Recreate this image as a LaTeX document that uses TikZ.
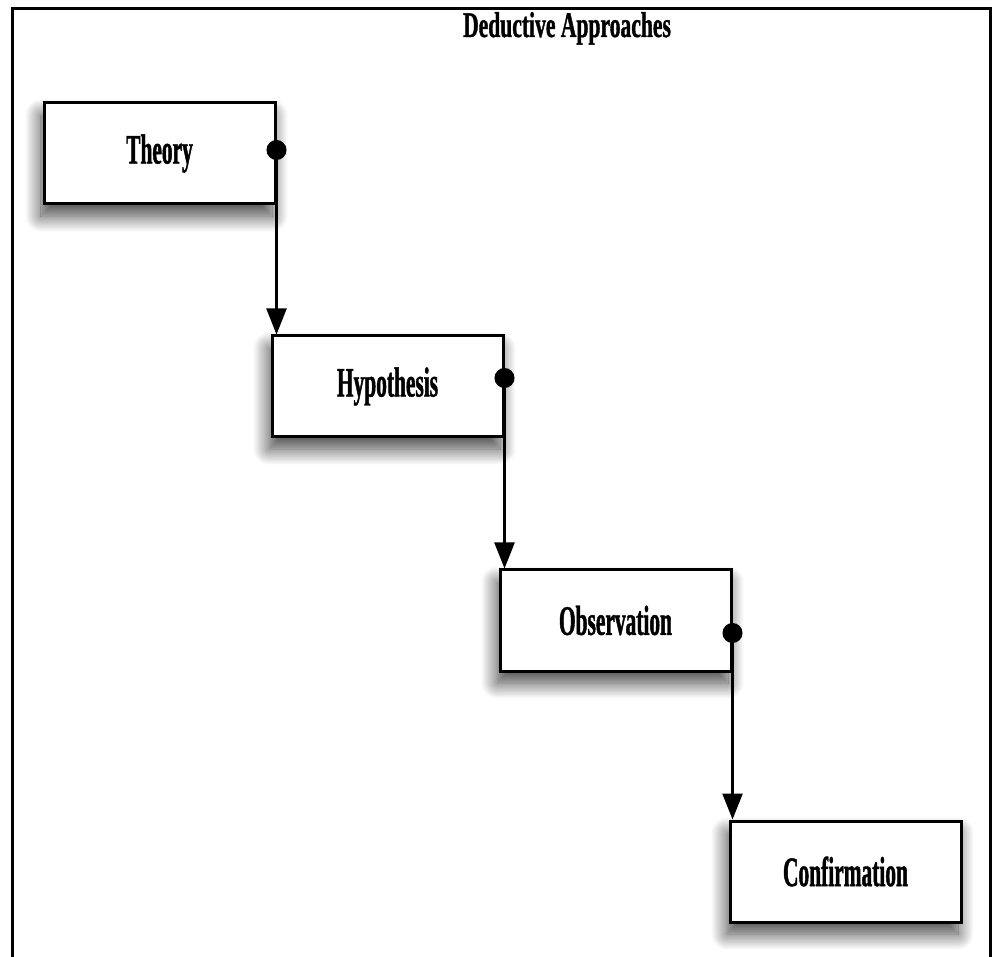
\documentclass[tikz,border=0pt]{standalone}
\usepackage{fontspec}
\newfontfamily\stagefont{Liberation Serif}[FakeStretch=0.51, FakeBold=1]
\newfontfamily\headfont{Liberation Serif}[FakeStretch=0.6, FakeBold=1]
\usetikzlibrary{arrows.meta, positioning, shadows.blur}

\begin{document}
\begin{tikzpicture}[
    x=0.5pt, y=-0.5pt,
    stage/.style={rectangle, draw, line width=1.5pt, fill=white, minimum width=115.5pt, minimum height=50.5pt, align=center, font=\stagefont\bfseries\fontsize{21}{24}\selectfont,
        blur shadow={shadow xshift=-1.5pt, shadow yshift=-6pt, shadow blur radius=8pt, shadow blur steps=25, shadow opacity=75}},
    flow/.style={{Circle[length=10pt]}-{Triangle[length=13pt, width=10pt]}, line width=1.25pt, shorten <=-5pt},
    frame/.style={line width=1.5pt},
    heading/.style={font=\headfont\bfseries\fontsize{18}{21}\selectfont, anchor=base}
]
    \useasboundingbox (0,0) rectangle (992,957);

    % Rahmen (unten offen)
    \draw[frame] (12,957) -- (12,9) -- (990,9) -- (990,957);
    \node[heading] (title) at (567,37) {Deductive Approaches};

    % Stufen, treppenartig
    \node[stage] (theory) at (159.5,153.5) {Theory};
    \node[stage, below right=64.5pt and -3pt of theory, anchor=north west] (hypothesis) {Hypothesis};
    \node[stage, below right=65pt and -3pt of hypothesis, anchor=north west] (observation) {Observation};
    \node[stage, below right=73.5pt and -2pt of observation, anchor=north west] (confirmation) {Confirmation};

    % Pfeile
    \draw[flow] ([yshift=1.75pt]theory.east) -- (theory.east |- hypothesis.north);
    \draw[flow] ([yshift=4.25pt]hypothesis.east) -- (hypothesis.east |- observation.north);
    \draw[flow] ([yshift=-6.25pt]observation.east) -- (observation.east |- confirmation.north);

\end{tikzpicture}
\end{document}
